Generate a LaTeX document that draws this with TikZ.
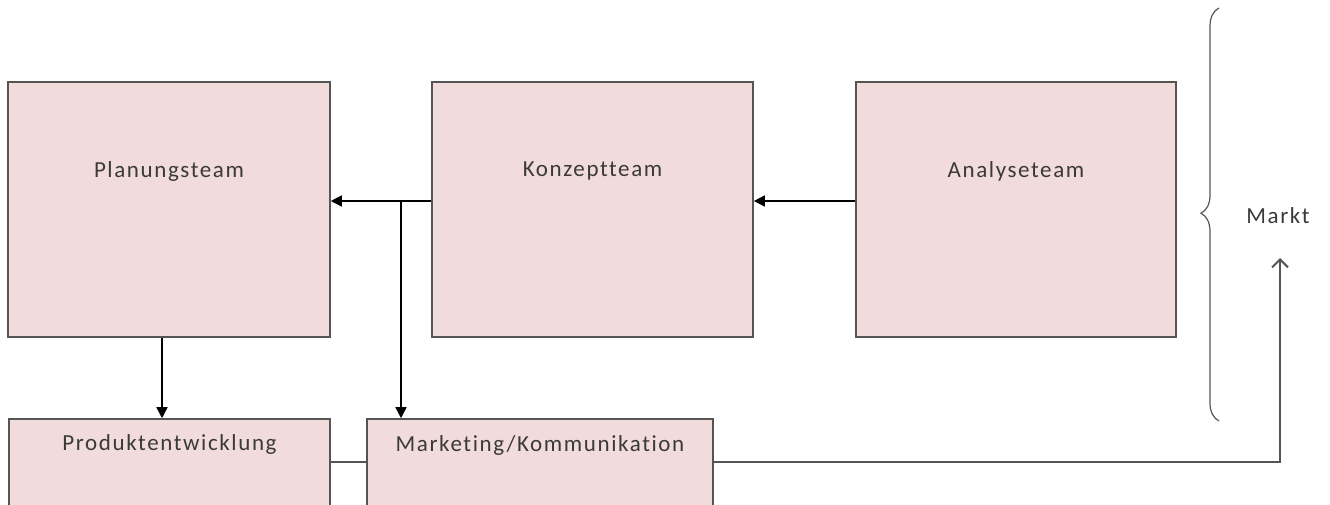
\documentclass[tikz,border=0pt]{standalone}
\usepackage{fontspec}
\setmainfont{Carlito}[LetterSpace=7,Ligatures=NoCommon]
\usetikzlibrary{arrows.meta,decorations.pathreplacing}
\definecolor{boxfill}{HTML}{F2DCDB}
\definecolor{boxline}{HTML}{555555}
\definecolor{txtgray}{HTML}{3A3A3A}
\begin{document}
\begin{tikzpicture}[x=1pt,y=1pt,
  box/.style={draw=boxline,fill=boxfill,line width=1.6pt,inner sep=0pt,minimum width=#1},
  box/.default=322pt,
  lbl/.style={text=txtgray,font=\fontsize{23}{27}\selectfont,inner sep=0pt},
  arr/.style={line width=1.5pt,-{Triangle[length=11pt,width=11pt]}},
  conn/.style={line width=1.4pt}]
\useasboundingbox (0,0) rectangle (1330,-504);
\clip (0,0) rectangle (1330,-504);
% top boxes
\node[box=322pt,minimum height=255pt] (plan) at (169,-209.5) {};
\node[box=321pt,minimum height=255pt] (konz) at (592.5,-209.5) {};
\node[box=320pt,minimum height=255pt] (anal) at (1016,-209.5) {};
\node[lbl] (planT) at ([yshift=-90]plan.north) {Planungsteam};
\node[lbl] (konzT) at ([yshift=-90]konz.north) {Konzeptteam};
\node[lbl] (analT) at ([yshift=-90]anal.north) {Analyseteam};
% bottom boxes
\node[box=321pt,minimum height=140pt] (prod) at (169.5,-489) {};
\node[box=346pt,minimum height=140pt] (mark) at (540,-489) {};
\node[lbl] (prodT) at ([yshift=-26]prod.north) {Produktentwicklung};
\node[lbl] (markT) at ([yshift=-27]mark.north) {Marketing/Kommunikation};
% Markt
\node[lbl] (markt) at (1278,-216) {Markt};
% connectors
\draw[arr] ([yshift=8.5]anal.west) -- ([yshift=8.5]konz.east);
\draw[arr] ([yshift=8.5]konz.west) -- ([yshift=8.5]plan.east);
\coordinate (j) at (401,-201);
\draw[arr] (j) -- (j |- mark.north);
\draw[arr] ([xshift=-7]plan.south) -- ([xshift=-7]plan.south |- prod.north);
\draw[draw=boxline,line width=1.3pt] ([yshift=27]prod.east) -- ([yshift=27]mark.west);
\coordinate (mt) at (1280,-258);
\draw[draw=boxline,line width=2pt,-{Straight Barb[length=8pt,width=16pt,line width=2pt]}] ([yshift=27]mark.east) -| (mt);
% brace
\coordinate (bb) at (1219,-421);
\coordinate (bt) at (1219,-8);
\draw[draw=boxline,line width=1.2pt,decorate,decoration={brace,amplitude=18pt,aspect=0.503}] (bb) -- (bt);
\end{tikzpicture}
\end{document}
